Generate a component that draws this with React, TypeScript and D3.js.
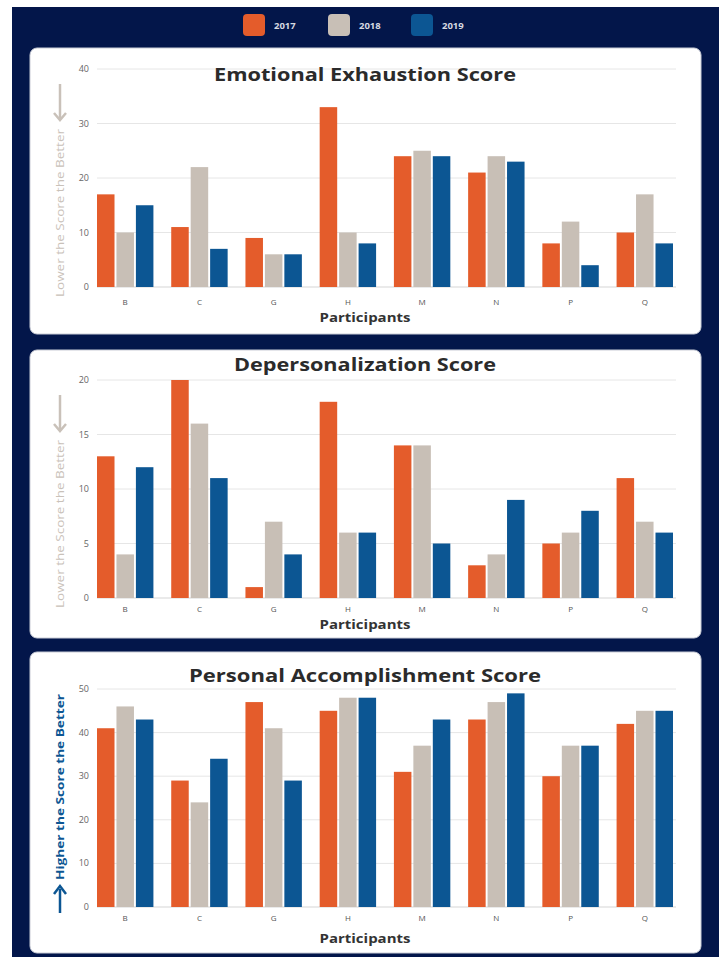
import React from "react";
import * as d3 from "d3";

const participants = ["B", "C", "G", "H", "M", "N", "P", "Q"];
const years = ["2017", "2018", "2019"];
const yearColors = ["#e45c2b", "#c8bfb6", "#0c5693"];

const exhaustion2017 = [17, 11, 9, 33, 24, 21, 8, 10];
const exhaustion2018 = [10, 22, 6, 10, 25, 24, 12, 17];
const exhaustion2019 = [15, 7, 6, 8, 24, 23, 4, 8];
const exhaustionTicks = [0, 10, 20, 30, 40];

const depers2017 = [13, 20, 1, 18, 14, 3, 5, 11];
const depers2018 = [4, 16, 7, 6, 14, 4, 6, 7];
const depers2019 = [12, 11, 4, 6, 5, 9, 8, 6];
const depersTicks = [0, 5, 10, 15, 20];

const accomp2017 = [41, 29, 47, 45, 31, 43, 30, 42];
const accomp2018 = [46, 24, 41, 48, 37, 47, 37, 45];
const accomp2019 = [43, 34, 29, 48, 43, 49, 37, 45];
const accompTicks = [0, 10, 20, 30, 40, 50];

const FONT = "'Open Sans', 'Noto Sans', sans-serif";

type PanelProps = {
  title: string;
  titleLen: number;
  series: number[][];
  ticks: number[];
  max: number;
  top: number;
  bottom: number;
  plotTop: number;
  plotBottom: number;
  titleY: number;
  xLabelY: number;
  xTitleY: number;
  axisNote: string;
  higher: boolean;
};

function Panel(p: PanelProps) {
  const x = d3.scaleBand<string>().domain(participants).range([97, 673]).paddingInner(0.24).paddingOuter(0);
  const sub = d3.scaleBand<string>().domain(years).range([0, x.bandwidth()]).paddingInner(0.1);
  const y = d3.scaleLinear().domain([0, p.max]).range([p.plotBottom, p.plotTop]);
  const noteColor = p.higher ? "#0c5693" : "#c9c1b9";
  return (
    <g>
      <rect x={30} y={p.top} width={671} height={p.bottom - p.top} rx={7} fill="#ffffff" stroke="#c9ccd6" strokeWidth={1} />
      {p.ticks.map((t) => (
        <g key={t}>
          {t > 0 && <line x1={97} x2={676} y1={y(t)} y2={y(t)} stroke="#e6e6e6" strokeWidth={1} />}
          <text x={89} y={y(t) + 3} textAnchor="end" fontSize={9} fill="#666" fontFamily={FONT}>{t}</text>
        </g>
      ))}
      <line x1={97} x2={676} y1={y(0)} y2={y(0)} stroke="#d5d5d5" strokeWidth={1} />
      {p.series.map((vals, si) =>
        vals.map((v, i) => (
          <rect
            key={si + "-" + i}
            x={(x(participants[i]) ?? 0) + (sub(years[si]) ?? 0)}
            y={y(v)}
            width={sub.bandwidth()}
            height={y(0) - y(v)}
            fill={yearColors[si]}
          />
        ))
      )}
      {participants.map((c) => (
        <text key={c} x={(x(c) ?? 0) + x.bandwidth() / 2} y={p.xLabelY} textAnchor="middle" fontSize={8} fill="#555" fontFamily={FONT}>{c}</text>
      ))}
      <text x={365} y={p.xTitleY} textAnchor="middle" fontSize={13} fontWeight={700} fill="#333" fontFamily={FONT} textLength={91} lengthAdjust="spacingAndGlyphs">Participants</text>
      <text x={365} y={p.titleY} textAnchor="middle" fontSize={18.5} fontWeight={700} fill="#2b2b2b" fontFamily={FONT} textLength={p.titleLen} lengthAdjust="spacingAndGlyphs">{p.title}</text>
      {p.higher ? (
        <g>
          <text transform={`translate(63.5,${p.plotBottom - 120}) rotate(-90)`} textAnchor="middle" fontSize={11} fontWeight={700} fill={noteColor} fontFamily={FONT} textLength={186} lengthAdjust="spacingAndGlyphs">{p.axisNote}</text>
          <line x1={60} x2={60} y1={p.plotBottom + 6} y2={p.plotBottom - 18} stroke={noteColor} strokeWidth={2.5} />
          <path d={`M54,${p.plotBottom - 13} L60,${p.plotBottom - 21} L66,${p.plotBottom - 13}`} fill="none" stroke={noteColor} strokeWidth={2.5} />
        </g>
      ) : (
        <g>
          <text transform={`translate(63.5,${p.plotBottom - 74}) rotate(-90)`} textAnchor="middle" fontSize={11} fill={noteColor} fontFamily={FONT} textLength={168} lengthAdjust="spacingAndGlyphs">{p.axisNote}</text>
          <line x1={60} x2={60} y1={p.plotTop + 15} y2={p.plotTop + 50} stroke={noteColor} strokeWidth={2.5} />
          <path d={`M54,${p.plotTop + 44} L60,${p.plotTop + 51} L66,${p.plotTop + 44}`} fill="none" stroke={noteColor} strokeWidth={2.5} />
        </g>
      )}
    </g>
  );
}

export default function App() {
  const legendX = [243, 328, 411];
  return (
    <svg width={719} height={957} style={{ position: "absolute", left: 0, top: 0, display: "block" }}>
      <rect x={0} y={0} width={719} height={957} fill="#ffffff" />
      <rect x={12} y={7} width={707} height={950} fill="#03164a" />
      {years.map((yr, i) => (
        <g key={yr}>
          <rect x={legendX[i]} y={14} width={22} height={22} rx={4} fill={yearColors[i]} />
          <text x={legendX[i] + 31} y={28.5} fontSize={9.5} fontWeight={700} fill="#d6d9e0" fontFamily={FONT}>{yr}</text>
        </g>
      ))}
      <Panel
        title="Emotional Exhaustion Score"
        titleLen={302}
        series={[exhaustion2017, exhaustion2018, exhaustion2019]}
        ticks={exhaustionTicks}
        max={40}
        top={48}
        bottom={334}
        plotTop={69}
        plotBottom={287}
        titleY={81}
        xLabelY={305}
        xTitleY={322}
        axisNote="Lower the Score the Better"
        higher={false}
      />
      <Panel
        title="Depersonalization Score"
        titleLen={262}
        series={[depers2017, depers2018, depers2019]}
        ticks={depersTicks}
        max={20}
        top={350}
        bottom={638}
        plotTop={380}
        plotBottom={598}
        titleY={371}
        xLabelY={612}
        xTitleY={629}
        axisNote="Lower the Score the Better"
        higher={false}
      />
      <Panel
        title="Personal Accomplishment Score"
        titleLen={352}
        series={[accomp2017, accomp2018, accomp2019]}
        ticks={accompTicks}
        max={50}
        top={652}
        bottom={953}
        plotTop={689}
        plotBottom={907}
        titleY={682}
        xLabelY={921}
        xTitleY={943}
        axisNote="Higher the Score the Better"
        higher={true}
      />
    </svg>
  );
}
